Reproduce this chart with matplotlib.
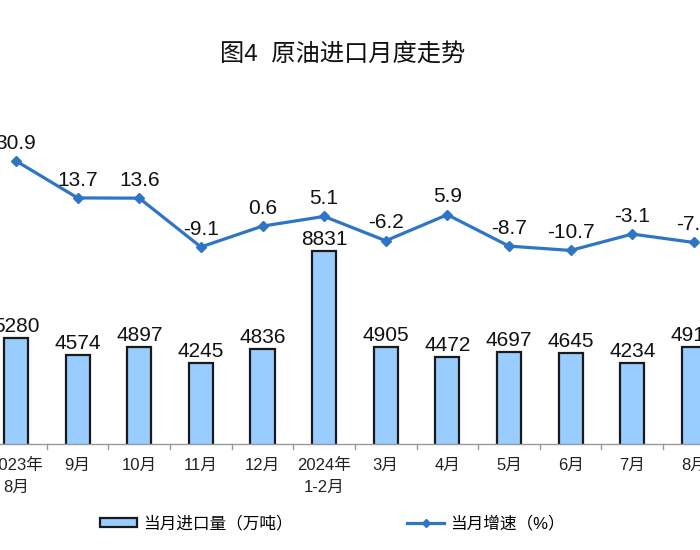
import matplotlib
matplotlib.use("Agg")
import matplotlib.pyplot as plt
from matplotlib.patches import Patch
from matplotlib.lines import Line2D
import numpy as np

plt.rcParams['font.family'] = ['Liberation Sans', 'Noto Sans CJK SC']

# Data
months = ["2023年\n8月", "9月", "10月", "11月", "12月", "2024年\n1-2月",
          "3月", "4月", "5月", "6月", "7月", "8月"]
imports = [5280, 4574, 4897, 4245, 4836, 8831, 4905, 4472, 4697, 4645, 4234, 4910]
growth = [30.9, 13.7, 13.6, -9.1, 0.6, 5.1, -6.2, 5.9, -8.7, -10.7, -3.1, -7.0]

BAR_COLOR = '#99CCFF'
LINE_COLOR = '#2E75C6'

fig = plt.figure(figsize=(7, 5.5), dpi=100)
ax = fig.add_axes([0, 0.1927, 1, 0.65])
x = np.arange(len(months))

ax.bar(x, imports, width=0.39, color=BAR_COLOR, edgecolor='#1a1a1a', linewidth=1.6, zorder=2)
for xi, v in zip(x, imports):
    ax.annotate(f"{v}", (xi, v), xytext=(0, 1.5), textcoords='offset points',
                ha='center', va='bottom', fontsize=15, color='#111111')

ax.set_xlim(-0.26, 11.10)
ax.set_ylim(928, 15568)
ax.set_yticks([])
for s in ['top', 'left', 'right']:
    ax.spines[s].set_visible(False)
ax.spines['bottom'].set_color('#999999')
ax.spines['bottom'].set_linewidth(1.0)
ax.set_xticks(x)
ax.set_xticklabels(months, fontsize=12, color='#222222', linespacing=1.55)
ax.tick_params(axis='x', length=0, pad=10)
# small tick marks between categories
for xb in x[:-1] + 0.5:
    ax.plot([xb, xb], [928, 928 - 200], color='#999999', lw=1.0, clip_on=False)

ax2 = ax.twinx()
ax2.plot(x, growth, color=LINE_COLOR, lw=2.3, marker='D', markersize=5, zorder=3)
for xi, v in zip(x, growth):
    ax2.annotate(f"{v:.1f}", (xi, v), xytext=(0, 6), textcoords='offset points',
                 ha='center', va='bottom', fontsize=15, color='#111111')
ax2.set_ylim(-100.7, 65.5)
ax2.set_yticks([])
for s in ax2.spines.values():
    s.set_visible(False)

fig.text(0.49, 0.902, "图4  原油进口月度走势", ha='center', va='center',
         fontsize=17.5, color='#111111')

handles = [Patch(facecolor=BAR_COLOR, edgecolor='#1a1a1a', linewidth=1.6),
           Line2D([0], [0], color=LINE_COLOR, lw=2.3, marker='D', markersize=4)]
fig.legend(handles, ["当月进口量（万吨）", "当月增速（%）"], loc='center left',
           bbox_to_anchor=(100 / 700, 0.048), ncol=2, frameon=False, fontsize=12,
           borderpad=0, borderaxespad=0,
           columnspacing=6.9, handlelength=2.2, handleheight=0.5, handletextpad=0.36)

fig.savefig("out.png", dpi=100)
